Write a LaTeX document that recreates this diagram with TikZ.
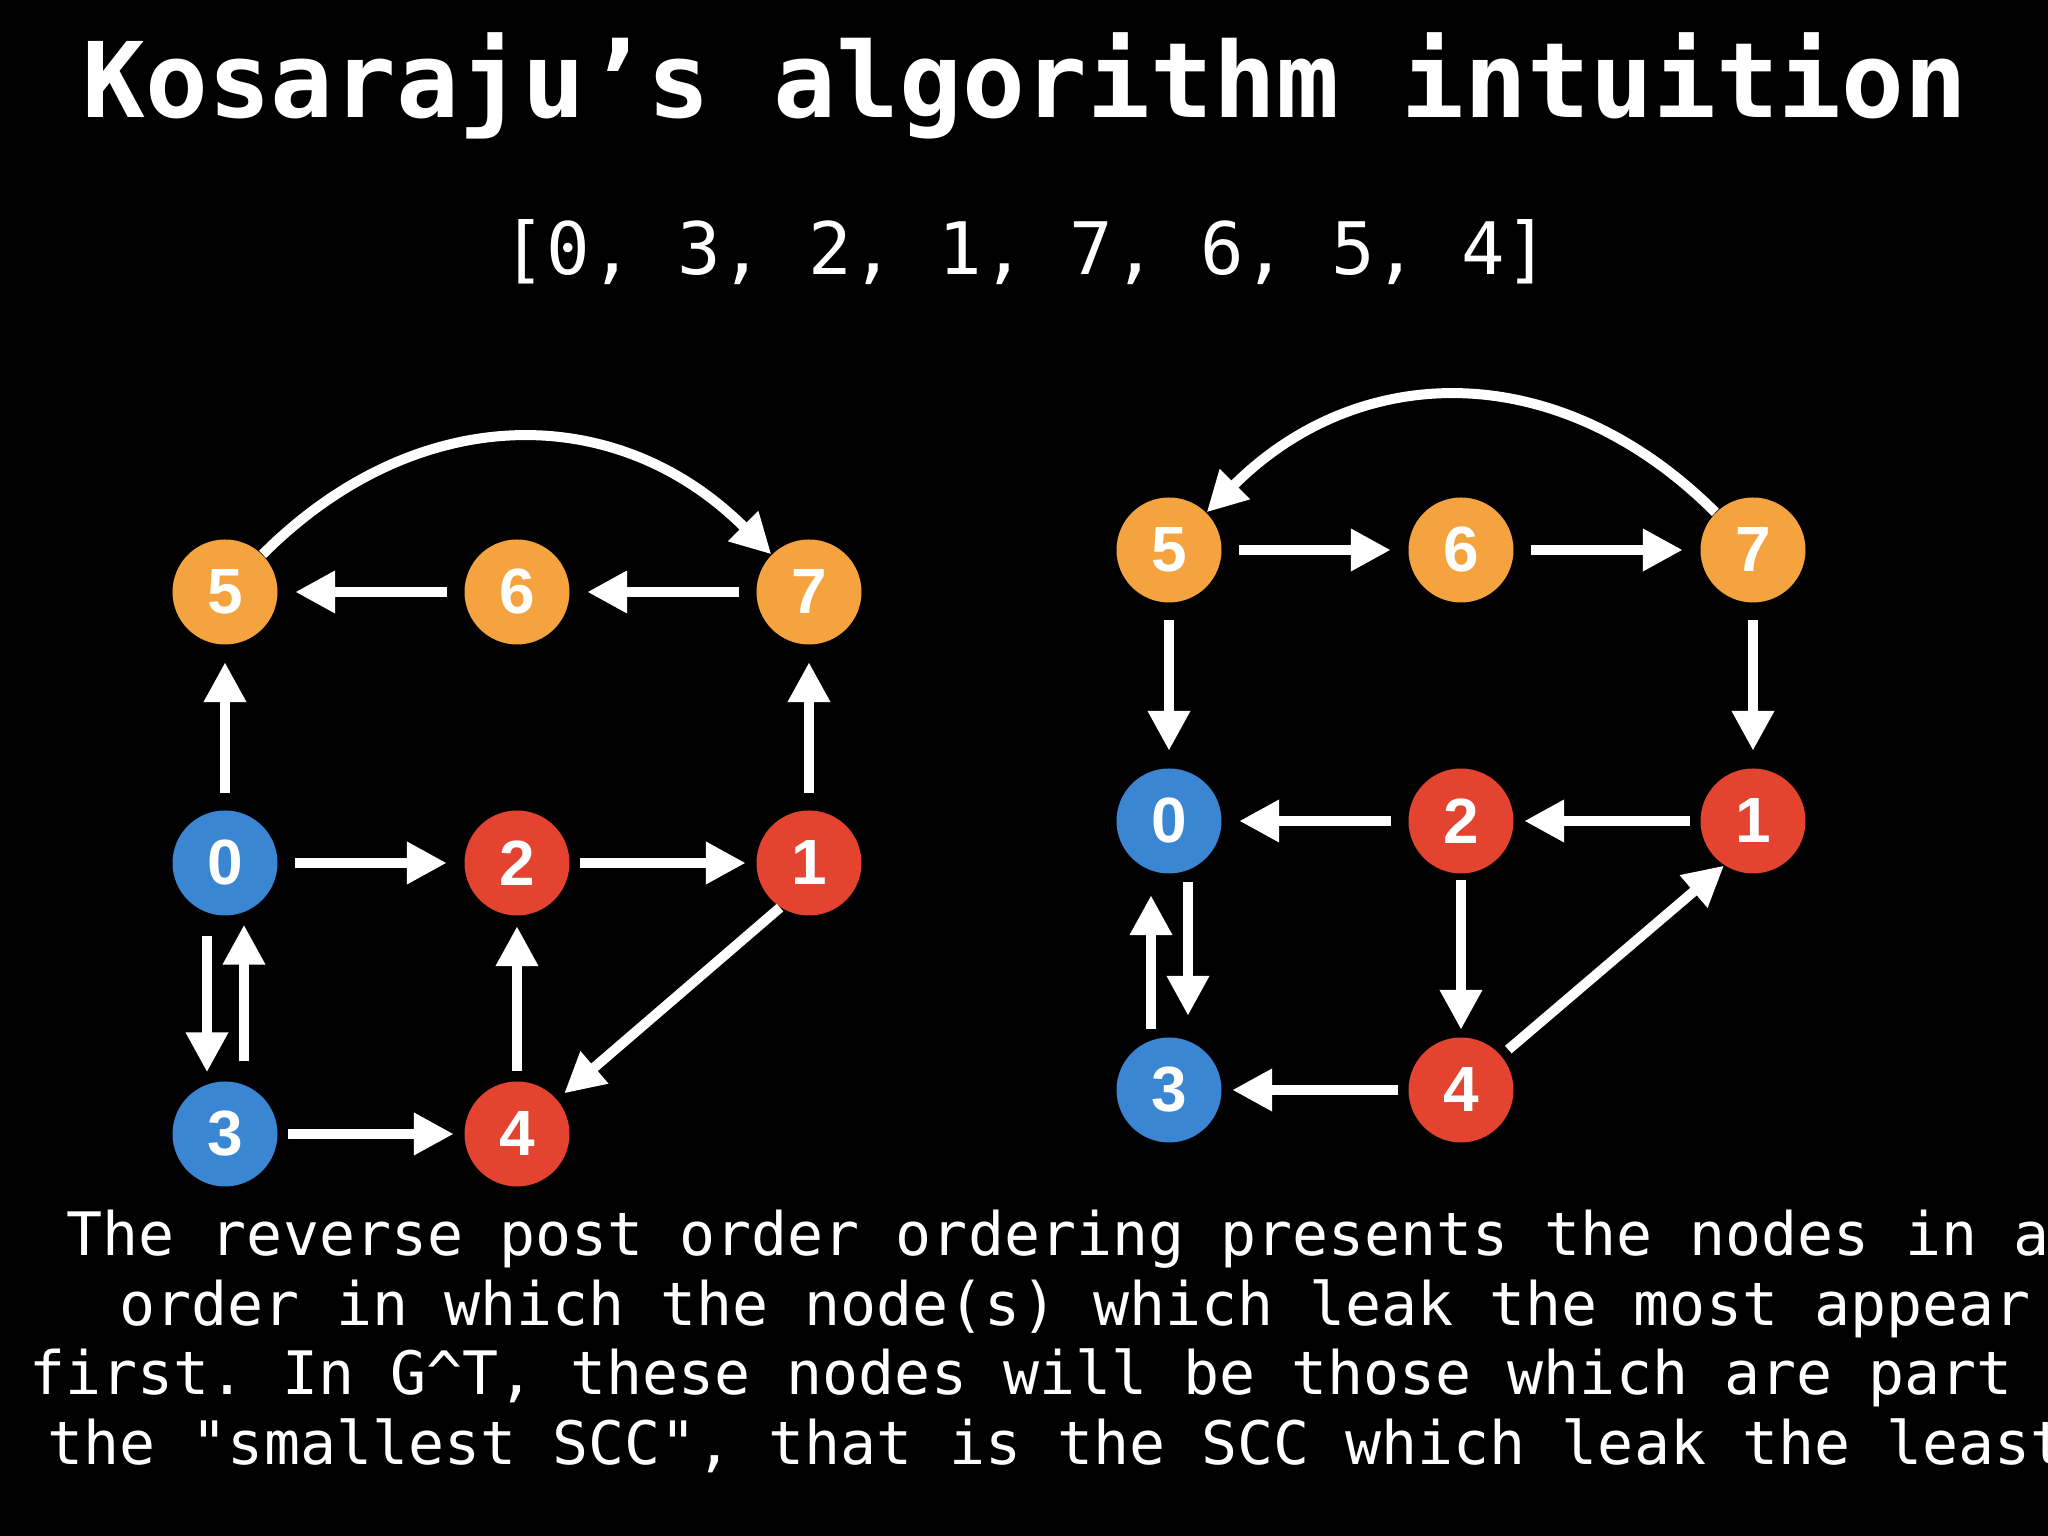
\documentclass[tikz,border=0pt]{standalone}
\usepackage{fontspec}
\setmonofont{DejaVu Sans Mono}
\newfontfamily\digitfont{Liberation Sans}
\usepackage{tikz}
\usetikzlibrary{arrows.meta}
\definecolor{SccOrange}{HTML}{F5A33F}
\definecolor{SccBlue}{HTML}{3A86D3}
\definecolor{SccRed}{HTML}{E3432F}

\begin{document}
\begin{tikzpicture}[x=1.0cm,y=1.0cm,>={Triangle[length=0.40cm,width=0.40cm]},
  vertex/.style={circle,minimum size=1.05cm,inner sep=0pt,text=white,
    font=\digitfont\bfseries\fontsize{18.2pt}{18.2pt}\selectfont},
  link/.style={->,white,line width=0.10cm,shorten <=0.17cm,shorten >=0.17cm},
  near link/.style={link,shorten <=0.10cm,shorten >=0.10cm},
  arc link/.style={->,white,line width=0.10cm},
  prose/.style={text=white,anchor=base west,inner sep=0pt,
    font=\ttfamily\fontsize{17.04pt}{20pt}\selectfont\frenchspacing}]
  \useasboundingbox (0,0) rectangle (20.48,15.36);
  \clip (0,0) rectangle (20.48,15.36);
  \fill[black] (0,0) rectangle (20.48,15.36);
  \node[text=white,anchor=base,font=\ttfamily\bfseries\fontsize{29.7pt}{30pt}\selectfont] (title) at (10.25,14.18) {Kosaraju’s algorithm intuition};
  \node[text=white,anchor=base,font=\ttfamily\fontsize{20.6pt}{21pt}\selectfont] (order) at (10.26,12.61) {[0, 3, 2, 1, 7, 6, 5, 4]};
  \node[vertex,fill=SccOrange] (l5) at (2.25,9.44) {5};
  \node[vertex,fill=SccOrange] (l6) at (5.17,9.44) {6};
  \node[vertex,fill=SccOrange] (l7) at (8.09,9.44) {7};
  \node[vertex,fill=SccBlue] (l0) at (2.25,6.73) {0};
  \node[vertex,fill=SccRed] (l2) at (5.17,6.73) {2};
  \node[vertex,fill=SccRed] (l1) at (8.09,6.73) {1};
  \node[vertex,fill=SccBlue] (l3) at (2.25,4.02) {3};
  \node[vertex,fill=SccRed] (l4) at (5.17,4.02) {4};
  \draw[link] (l7) -- (l6);
  \draw[link] (l6) -- (l5);
  \draw[link] (l0) -- (l5);
  \draw[link] (l1) -- (l7);
  \draw[link] (l0) -- (l2);
  \draw[near link] (l2) -- (l1);
  \draw[near link] (l3) -- (l4);
  \draw[near link] (l4) -- (l2);
  \draw[link,shorten <=0cm,shorten >=0.09cm] (l1.237) -- (l4);
  \draw[link,shorten <=0.20cm,shorten >=0.085cm] ([xshift=-0.18cm]l0.south) -- ([xshift=-0.18cm]l3.north);
  \draw[link,shorten <=0.20cm,shorten >=0.085cm] ([xshift=0.19cm]l3.north) -- ([xshift=0.19cm]l0.south);
  \draw[arc link] (l5) to[out=45,in=135,looseness=1.1] (l7);
  \node[vertex,fill=SccOrange] (r5) at (11.69,9.86) {5};
  \node[vertex,fill=SccOrange] (r6) at (14.61,9.86) {6};
  \node[vertex,fill=SccOrange] (r7) at (17.53,9.86) {7};
  \node[vertex,fill=SccBlue] (r0) at (11.69,7.15) {0};
  \node[vertex,fill=SccRed] (r2) at (14.61,7.15) {2};
  \node[vertex,fill=SccRed] (r1) at (17.53,7.15) {1};
  \node[vertex,fill=SccBlue] (r3) at (11.69,4.46) {3};
  \node[vertex,fill=SccRed] (r4) at (14.61,4.46) {4};
  \draw[link] (r5) -- (r6);
  \draw[link] (r6) -- (r7);
  \draw[link] (r5) -- (r0);
  \draw[link] (r7) -- (r1);
  \draw[link] (r2) -- (r0);
  \draw[near link] (r1) -- (r2);
  \draw[near link] (r4) -- (r3);
  \draw[link,shorten <=0.06cm,shorten >=0.07cm] (r2) -- (r4);
  \draw[link,shorten <=0.09cm,shorten >=0cm] (r4) -- (r1.237);
  \draw[link,shorten <=0.08cm,shorten >=0.21cm] ([xshift=0.19cm]r0.south) -- ([xshift=0.19cm]r3.north);
  \draw[link,shorten <=0.08cm,shorten >=0.21cm] ([xshift=-0.18cm]r3.north) -- ([xshift=-0.18cm]r0.south);
  \draw[arc link] (r7) to[out=135,in=45,looseness=1.1] (r5);
  \node[prose] (line1) at (0.66,2.80) {The reverse post order ordering presents the nodes in a};
  \node[prose] (line2) at (1.19,2.103) {order in which the node(s) which leak the most appear};
  \node[prose] (line3) at (0.29,1.41) {first. In G\textasciicircum T, these nodes will be those which are part};
  \node[prose] (line4) at (0.47,0.71) {the "smallest SCC", that is the SCC which leak the least};
\end{tikzpicture}
\end{document}
